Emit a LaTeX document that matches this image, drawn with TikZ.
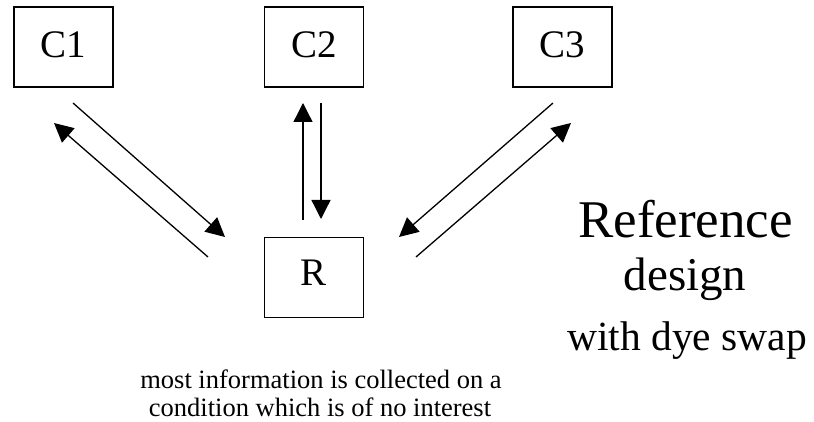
\documentclass[tikz,border=0pt]{standalone}
\usepackage{fontspec}
\setmainfont{Liberation Serif}
\usetikzlibrary{arrows.meta}
\begin{document}
\begin{tikzpicture}[x=1pt,y=-1pt,
  box/.style={draw,line width=1.3pt,minimum width=99pt,minimum height=80pt,inner sep=0pt,text depth=4pt,font=\fontsize{39}{44}\selectfont},
  conn/.style={line width=1.3pt},
  arr/.style={conn,-{Triangle[length=19pt,width=19pt]}},
  big/.style={anchor=base,inner sep=0pt,font=\fontsize{53}{60}\selectfont},
  bigb/.style={anchor=base,inner sep=0pt,font=\fontsize{47}{52}\selectfont},
  mid/.style={anchor=base,inner sep=0pt,font=\fontsize{41.5}{46}\selectfont},
  small/.style={anchor=base,inner sep=0pt,font=\fontsize{26.5}{30}\selectfont}]
\useasboundingbox (0,0) rectangle (814,422);
\node[box] (C1) at (63.5,47) {C1};
\node[box] (C2) at (314,47) {C2};
\node[box] (C3) at (562.5,47) {C3};
\node[box,text depth=10pt] (R) at (314,277.5) {R};
% C1 pair
\coordinate (a1) at (73,103); \coordinate (a2) at (225,237);
\coordinate (b1) at (208,257); \coordinate (b2) at (54,123);
\draw[arr] (a1) -- (a2);
\draw[arr] (b1) -- (b2);
% C2 pair
\coordinate (c1) at (303,220); \coordinate (c2) at (303,103);
\coordinate (d1) at (321,103); \coordinate (d2) at (321,219);
\draw[arr] (c1) -- (c2);
\draw[arr] (d1) -- (d2);
% C3 pair
\coordinate (e1) at (553,103); \coordinate (e2) at (399,237);
\coordinate (f1) at (416,257); \coordinate (f2) at (571,123);
\draw[arr] (e1) -- (e2);
\draw[arr] (f1) -- (f2);
% texts
\node[big] (t1) at (685.5,237) {Reference};
\node[bigb] (t2) at (685,290) {design};
\node[mid] (t3) at (687,350) {with dye swap};
\node[small] (n1) at (321,388) {most information is collected on a};
\node[small] (n2) at (320,416) {condition which is of no interest};
\end{tikzpicture}
\end{document}
